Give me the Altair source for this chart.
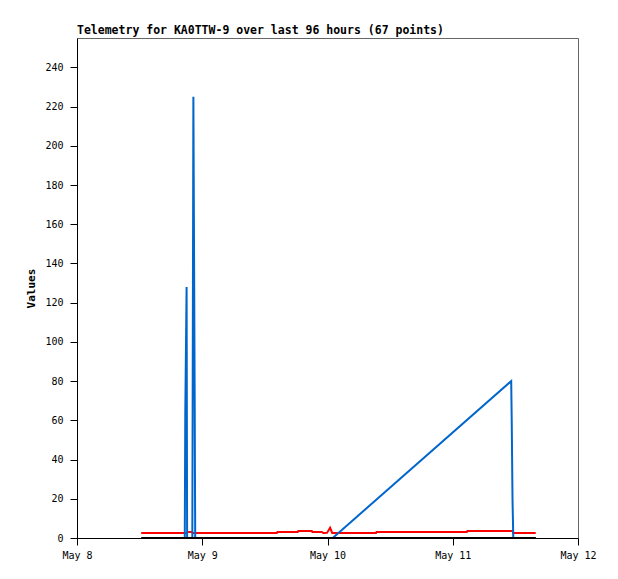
import altair as alt
import pandas as pd

BASE = pd.Timestamp("2024-05-08 00:00:00")

# hours after May 8 00:00
blue_hours = [20.65, 20.75, 21.0, 21.1, 22.1, 22.3, 22.55, 22.65, 49.0, 83.2, 83.3, 83.45, 83.6, 87.9]
blue_values = [0, 64, 128, 0, 0, 225, 72, 0, 0, 80, 60, 20, 0, 0]

red_hours = [12.3, 21.0, 21.2, 22.0, 22.2, 38.3, 38.4, 42.3, 42.4, 45.0, 45.1, 46.9, 47.2,
             47.9, 48.5, 48.9, 57.3, 57.4, 74.7, 74.8, 83.5, 83.6, 87.9]
red_values = [2.6, 2.6, 3.1, 3.1, 2.6, 2.6, 3.1, 3.1, 3.6, 3.6, 3.1, 3.1, 2.5,
              2.6, 5.2, 2.6, 2.6, 3.1, 3.1, 3.6, 3.6, 2.6, 2.6]

black_hours = [12.3, 87.9]
black_values = [0, 0]

y_ticks = [0, 20, 40, 60, 80, 100, 120, 140, 160, 180, 200, 220, 240]


def frame(hours, values, name):
    return pd.DataFrame({
        "time": [(BASE + pd.Timedelta(hours=h)).strftime("%Y-%m-%dT%H:%M:%S") for h in hours],
        "value": values,
        "series": name,
    })


df = pd.concat([
    frame(red_hours, red_values, "red"),
    frame(blue_hours, blue_values, "blue"),
    frame(black_hours, black_values, "black"),
])

FONT = "DejaVu Sans Mono"

x_enc = alt.X(
    "time:T",
    scale=alt.Scale(domain=[alt.DateTime(year=2024, month=5, date=8),
                            alt.DateTime(year=2024, month=5, date=12)]),
    axis=alt.Axis(title=None, format="%b %-d", tickCount={"interval": "day", "step": 1},
                  grid=False, domainColor="black", tickColor="black", tickSize=7,
                  labelFlush=False, labelAlign="center",
                  labelFont=FONT, labelFontSize=10, labelColor="black", labelPadding=5),
)
y_enc = alt.Y(
    "value:Q",
    scale=alt.Scale(domain=[0, 255], nice=False),
    axis=alt.Axis(title="Values", values=y_ticks, grid=False, domainColor="black",
                  tickColor="black", tickSize=7, labelFont=FONT, labelFontSize=10,
                  labelColor="black", labelPadding=7, titleFont=FONT, titleFontSize=11,
                  titleFontWeight="bold", titleColor="black", titlePadding=8),
)

def layer(name, color):
    return alt.Chart(df).transform_filter(alt.datum.series == name).mark_line(
        color=color, strokeWidth=2, interpolate="linear", clip=True
    ).encode(x=x_enc, y=y_enc, order=alt.Order("time:T"))

chart = alt.layer(
    layer("red", "#FF0000"),
    layer("blue", "#0066CC"),
    layer("black", "#000000"),
).properties(
    width=501,
    height=500,
    title=alt.TitleParams(
        "Telemetry for KA0TTW-9 over last 96 hours (67 points)",
        anchor="start", frame="group", font=FONT, fontSize=11.5, fontWeight="bold",
        color="black", offset=2,
    ),
    autosize=alt.AutoSizeParams(type="none"),
    padding={"left": 69, "top": 30, "right": 30, "bottom": 30},
).configure_view(stroke="#666666", strokeWidth=1)

chart.save("out.html", embed_options={"renderer": "svg", "actions": False})
